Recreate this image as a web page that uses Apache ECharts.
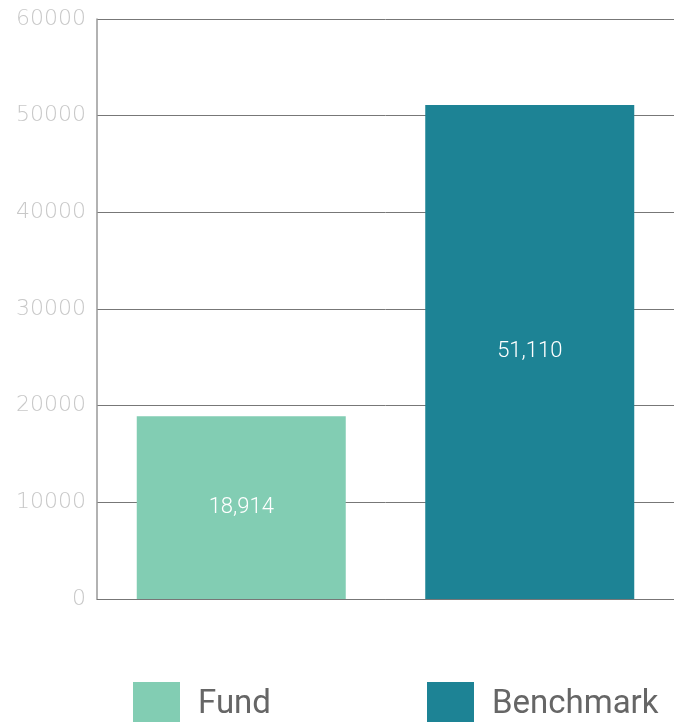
<!DOCTYPE html>
<html>
<head>
<meta charset="utf-8">
<script src="https://cdn.jsdelivr.net/npm/echarts@6/dist/echarts.min.js"></script>
<style>
  html, body { margin: 0; padding: 0; background: #fff; }
  #chart { width: 674px; height: 722px; }
</style>
</head>
<body>
<div id="chart"></div>
<script>
const categories = ['Fund', 'Benchmark'];
const fundValues = [18914, '-'];
const benchmarkValues = ['-', 51110];
const colors = ['#82cdb3', '#1d8395'];

const chart = echarts.init(document.getElementById('chart'));

const labelStyle = {
  show: true,
  position: 'inside',
  color: '#fff',
  fontFamily: 'Roboto',
  fontWeight: 300,
  fontSize: 22,
  formatter: p => p.value.toLocaleString('en-US')
};

const legendText = { fontFamily: 'Roboto', fontSize: 33, color: '#666', padding: [0, 0, 0, 13] };

chart.setOption({
  animation: false,
  grid: { left: 97, right: 0, top: 19, bottom: 123 },
  legend: [
    { data: ['Fund'], left: 128, bottom: -11, itemWidth: 47, itemHeight: 46, icon: 'rect', textStyle: legendText },
    { data: ['Benchmark'], left: 422, bottom: -11, itemWidth: 47, itemHeight: 46, icon: 'rect', textStyle: legendText }
  ],
  xAxis: {
    type: 'category',
    data: categories,
    axisLine: { lineStyle: { color: '#777' } },
    axisTick: { show: false },
    axisLabel: { show: false }
  },
  yAxis: {
    type: 'value',
    min: 0, max: 60000, interval: 10000,
    axisLine: { show: true, lineStyle: { color: '#999', width: 1.5 } },
    axisTick: { show: false },
    splitLine: { lineStyle: { color: '#777' } },
    axisLabel: {
      color: '#c8c8c8', fontSize: 22, fontFamily: 'DejaVu Sans', fontWeight: 200, margin: 11,
      formatter: v => String(v)
    }
  },
  series: [
    {
      name: 'Fund', type: 'bar', data: fundValues, barWidth: 209, barGap: '-100%',
      itemStyle: { color: colors[0] }, label: labelStyle
    },
    {
      name: 'Benchmark', type: 'bar', data: benchmarkValues, barWidth: 209, barGap: '-100%',
      itemStyle: { color: colors[1] }, label: labelStyle
    }
  ]
});
</script>
</body>
</html>
